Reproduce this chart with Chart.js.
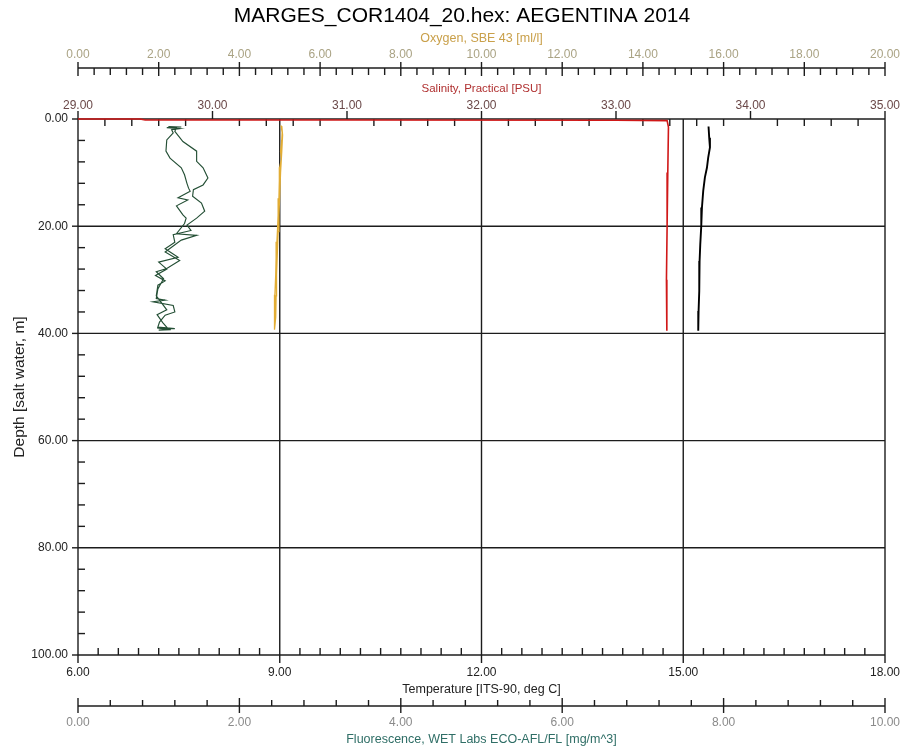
<!DOCTYPE html>
<html><head><meta charset="utf-8">
<script src="https://cdn.jsdelivr.net/npm/chart.js@4.4.1/dist/chart.umd.min.js"></script>
<style>html,body{margin:0;padding:0;background:#fff;}canvas{display:block;}</style>
</head><body>
<canvas id="c" width="904" height="752"></canvas>
<script>
// ---------- text ----------
const chartTitle = 'MARGES_COR1404_20.hex: AEGENTINA 2014';
const depthTitle = 'Depth [salt water, m]';
const tempTitle = 'Temperature [ITS-90, deg C]';
const salTitle = 'Salinity, Practical [PSU]';
const oxyTitle = 'Oxygen, SBE 43 [ml/l]';
const fluorTitle = 'Fluorescence, WET Labs ECO-AFL/FL [mg/m^3]';

// ---------- tick values ----------
const depthTicks = [0, 20, 40, 60, 80, 100];
const tempTicks = [6, 9, 12, 15, 18];
const salTicks = [29, 30, 31, 32, 33, 34, 35];
const oxyTicks = [0, 2, 4, 6, 8, 10, 12, 14, 16, 18, 20];
const fluorTicks = [0, 2, 4, 6, 8, 10];
const depthMinor = 4, tempMinor = 0.3, salMinor = 0.2, oxyMinor = 0.4, fluorMinor = 0.4;

// ---------- series: [value, depth] ----------
const temperature = [
  [15.376, 1.4], [15.386, 3.5], [15.397, 5.3], [15.371, 7.2], [15.352, 9.1],
  [15.322, 10.9], [15.297, 13.4], [15.278, 16.5], [15.268, 19.9], [15.253, 23.4],
  [15.243, 26.5], [15.238, 32.1], [15.228, 35.8], [15.223, 39.5]
];
const salinity = [
  [29.00, 0.0], [29.46, 0.0], [29.50, 0.18], [31.00, 0.2], [33.00, 0.22],
  [33.38, 0.3], [33.39, 1.5], [33.385, 10], [33.38, 20], [33.375, 30], [33.378, 39.5]
];
const oxygen = [
  [5.03, 1.2], [5.06, 2.5], [5.05, 4.0], [5.02, 6.0], [5.04, 7.5], [5.00, 9.0],
  [4.99, 11.5], [4.98, 14.8], [4.96, 17.9], [4.95, 19.8], [4.93, 22.9], [4.91, 26.0],
  [4.90, 29.1], [4.88, 32.8], [4.87, 36.6], [4.86, 39.0], [4.88, 39.3], [4.90, 37.0],
  [4.91, 33.0], [4.92, 29.0], [4.94, 25.0], [4.96, 21.0], [4.98, 18.0], [5.00, 14.0],
  [5.02, 10.0], [5.05, 6.0], [5.07, 3.0], [5.05, 1.3]
];
const fluorescence = [
  [1.12, 1.4], [1.28, 1.5], [1.10, 1.6], [1.26, 1.8], [1.16, 2.0],
  [1.18, 2.6], [1.10, 3.9], [1.09, 6.0], [1.14, 7.3], [1.28, 9.1], [1.32, 10.4],
  [1.35, 12.0], [1.37, 12.9], [1.39, 13.5], [1.24, 14.7], [1.36, 15.1], [1.22, 16.2],
  [1.30, 17.9], [1.34, 18.5], [1.32, 19.5], [1.22, 21.4], [1.47, 21.7], [1.28, 22.6],
  [1.08, 24.8], [1.26, 26.4], [1.10, 27.9], [0.97, 28.5], [1.06, 29.8], [0.99, 31.7],
  [0.97, 33.5], [1.08, 33.8], [0.93, 34.1], [1.18, 34.8], [1.20, 36.0], [1.08, 36.6],
  [1.01, 37.9], [0.99, 38.8], [1.20, 39.1], [0.98, 39.0], [1.15, 39.3], [1.00, 39.4],
  [1.12, 39.2], [1.05, 38.0], [0.98, 36.5], [1.10, 35.6], [0.97, 33.0], [0.99, 31.0],
  [1.08, 30.2], [0.96, 29.2], [1.10, 28.0], [1.00, 26.7], [1.24, 25.8], [1.08, 24.2],
  [1.20, 23.0], [1.18, 21.6], [1.40, 20.8], [1.35, 19.8], [1.47, 18.5], [1.57, 17.2],
  [1.53, 15.7], [1.42, 14.4], [1.43, 13.2], [1.55, 12.3], [1.61, 11.0], [1.55, 9.1],
  [1.47, 7.9], [1.47, 6.0], [1.30, 4.2], [1.20, 2.3], [1.22, 1.6]
];

const FONT = '"Liberation Sans", Arial, sans-serif';
Chart.defaults.font.family = FONT;

const toXY = arr => arr.map(([x, y]) => ({x, y}));
const fixed2 = v => Number(v).toFixed(2);
const setTicks = arr => s => { s.ticks = arr.map(v => ({value: v})); };
const noGrid = {display: false, drawTicks: false, tickLength: 0};
const fitH = h => s => { s.height = h; s.paddingLeft = 0; s.paddingRight = 0; };

function line(ctx, x1, y1, x2, y2) {
  ctx.beginPath(); ctx.moveTo(x1, y1); ctx.lineTo(x2, y2); ctx.stroke();
}
function minorTicks(scale, majors, step, fn) {
  const min = majors[0], max = majors[majors.length - 1];
  const n = Math.round((max - min) / step);
  const every = Math.round((majors[1] - majors[0]) / step);
  for (let i = 0; i <= n; i++) {
    if (i % every === 0) continue;
    fn(scale.getPixelForValue(min + i * step));
  }
}

const axesPlugin = {
  id: 'ctdAxes',
  beforeDatasetsDraw(chart) {
    const {ctx, chartArea: a, scales: s} = chart;
    const L = a.left, R = a.right, T = a.top, B = a.bottom;
    ctx.save();
    ctx.strokeStyle = '#1c1c1c';
    ctx.lineWidth = 1.4;
    // grid
    tempTicks.slice(1, -1).forEach(v => { const x = s.xT.getPixelForValue(v); line(ctx, x, T, x, B); });
    depthTicks.slice(1, -1).forEach(v => { const y = s.y.getPixelForValue(v); line(ctx, L, y, R, y); });
    // frame
    line(ctx, L, T, R, T); line(ctx, L, B, R, B); line(ctx, L, T, L, B); line(ctx, R, T, R, B);
    // depth axis
    depthTicks.forEach(v => { const y = s.y.getPixelForValue(v); line(ctx, L - 6, y, L, y); });
    minorTicks(s.y, depthTicks, depthMinor, y => line(ctx, L, y, L + 7, y));
    // salinity axis (top frame)
    salTicks.forEach(v => { const x = s.xS.getPixelForValue(v); line(ctx, x, T - 8, x, T); });
    minorTicks(s.xS, salTicks, salMinor, x => line(ctx, x, T, x, T + 7));
    // oxygen axis
    const yo = s.xO.bottom;
    line(ctx, L, yo, R, yo);
    oxyTicks.forEach(v => { const x = s.xO.getPixelForValue(v); line(ctx, x, yo - 6, x, yo + 8); });
    minorTicks(s.xO, oxyTicks, oxyMinor, x => line(ctx, x, yo, x, yo + 7));
    // temperature axis (bottom frame)
    tempTicks.forEach(v => { const x = s.xT.getPixelForValue(v); line(ctx, x, B, x, B + 8); });
    minorTicks(s.xT, tempTicks, tempMinor, x => line(ctx, x, B - 7, x, B));
    // fluorescence axis
    const yf = s.xF.top;
    line(ctx, L, yf, R, yf);
    fluorTicks.forEach(v => { const x = s.xF.getPixelForValue(v); line(ctx, x, yf - 8, x, yf + 7); });
    minorTicks(s.xF, fluorTicks, fluorMinor, x => line(ctx, x, yf - 6, x, yf));
    ctx.restore();
  },
  afterDraw(chart) {
    const ctx = chart.ctx;
    ctx.save();
    ctx.font = '21px ' + FONT;
    ctx.fillStyle = '#000';
    ctx.textAlign = 'center';
    ctx.textBaseline = 'middle';
    ctx.fillText(chartTitle, 462, 16);
    ctx.restore();
  }
};

const series = (data, axis, color, width) => ({
  data: toXY(data), xAxisID: axis, yAxisID: 'y', borderColor: color, backgroundColor: color,
  borderWidth: width, showLine: true, pointRadius: 0, tension: 0,
  clip: {left: 4, top: 4, right: 4, bottom: 4}
});

new Chart(document.getElementById('c'), {
  type: 'scatter',
  data: {
    datasets: [
      series(salinity, 'xS', '#d01818', 1.6),
      series(temperature, 'xT', '#000000', 1.9),
      series(oxygen, 'xO', '#e2ad35', 1.3),
      series(fluorescence, 'xF', '#244f35', 1.15)
    ]
  },
  options: {
    responsive: false,
    animation: false,
    layout: {padding: {top: 31, right: 19, bottom: 0, left: 0}},
    plugins: {legend: {display: false}, title: {display: false}, tooltip: {enabled: false}},
    scales: {
      y: {
        type: 'linear', position: 'left', reverse: true, min: 0, max: 100,
        afterBuildTicks: setTicks(depthTicks),
        afterFit: s => { s.width = 78; s.paddingTop = 0; s.paddingBottom = 0; },
        grid: noGrid, border: {display: false},
        ticks: {callback: fixed2, padding: 10, color: '#222', font: {size: 12}},
        title: {display: true, text: depthTitle, color: '#222', font: {size: 15.5}, padding: {top: 10.7, bottom: 0}}
      },
      xT: {
        type: 'linear', position: 'bottom', weight: 0, min: 6, max: 18,
        afterBuildTicks: setTicks(tempTicks), afterFit: fitH(51),
        grid: noGrid, border: {display: false},
        ticks: {callback: fixed2, padding: 10.8, color: '#222', font: {size: 12}, maxRotation: 0, autoSkip: false},
        title: {display: true, text: tempTitle, color: '#222', font: {size: 12.5}, padding: {top: 0, bottom: 8.5}}
      },
      xF: {
        type: 'linear', position: 'bottom', weight: 10, min: 0, max: 10,
        afterBuildTicks: setTicks(fluorTicks), afterFit: fitH(46),
        grid: noGrid, border: {display: false},
        ticks: {callback: fixed2, padding: 9.8, color: '#8a8a8a', font: {size: 12}, maxRotation: 0, autoSkip: false},
        title: {display: true, text: fluorTitle, color: '#2f6e66', font: {size: 12.5}, padding: {top: 0, bottom: 4.5}}
      },
      xS: {
        type: 'linear', position: 'top', weight: 0, min: 29, max: 35,
        afterBuildTicks: setTicks(salTicks), afterFit: fitH(51),
        grid: noGrid, border: {display: false},
        ticks: {callback: fixed2, padding: 6, color: '#6a4848', font: {size: 12}, maxRotation: 0, autoSkip: false},
        title: {display: true, text: salTitle, color: '#b03030', font: {size: 11.5}, padding: {top: 14.1, bottom: 0}}
      },
      xO: {
        type: 'linear', position: 'top', weight: 10, min: 0, max: 20,
        afterBuildTicks: setTicks(oxyTicks), afterFit: fitH(37),
        grid: noGrid, border: {display: false},
        ticks: {callback: fixed2, padding: 6, color: '#aaa384', font: {size: 12}, maxRotation: 0, autoSkip: false},
        title: {display: true, text: oxyTitle, color: '#c9a04a', font: {size: 12.5}, padding: {top: 0, bottom: 0}}
      }
    }
  },
  plugins: [axesPlugin]
});
</script>
</body></html>
